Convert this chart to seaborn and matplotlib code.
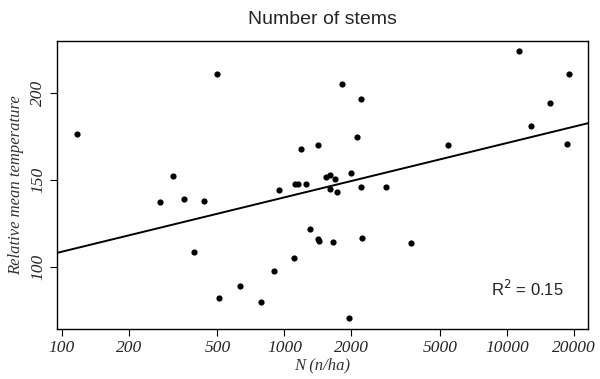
import numpy as np
import pandas as pd
import seaborn as sns
import matplotlib
matplotlib.use("Agg")
import matplotlib.pyplot as plt

# stems per hectare and relative mean temperature
stems = [117, 276, 316, 353, 392, 434, 499, 509, 632, 785, 902, 946,
         1107, 1117, 1150, 1188, 1253, 1300, 1410, 1430, 1422, 1538, 1604,
         1610, 1649, 1683, 1725, 1811, 1941, 1983, 2125, 2213, 2213, 2240,
         2857, 3707, 5455, 11300, 12800, 15560, 18660, 18900]
temp = [176.3, 137.1, 152.3, 138.8, 108.4, 137.7, 211.3, 81.7, 88.6, 79.7,
        97.6, 144.4, 105.1, 147.5, 147.5, 167.7, 147.8, 121.7, 115.8, 114.6,
        170.2, 151.7, 145.0, 153.0, 114.2, 150.7, 143.2, 205.2, 70.2, 154.2,
        174.6, 196.9, 145.8, 116.7, 146.1, 113.4, 170.2, 224.2, 181.0, 194.4,
        170.9, 211.0]
xticks = [100, 200, 500, 1000, 2000, 5000, 10000, 20000]
yticks = [100, 150, 200]
r2_text = "R$^2$ = 0.15"

df = pd.DataFrame({"N": stems, "T": temp})

sns.set_style("white")
serif = ["Liberation Serif", "DejaVu Serif"]
sans = ["Liberation Sans", "DejaVu Sans"]

fig = plt.figure(figsize=(6, 3.79), dpi=100)
ax = fig.add_axes([0.095, 0.132, 0.885, 0.76])
ax.set_xscale("log")
ax.set_xlim(95.2, 23100)
ax.set_ylim(64, 230.2)

sns.scatterplot(data=df, x="N", y="T", ax=ax, color="black", s=20,
                edgecolor="black", linewidth=0, zorder=3)
sns.regplot(data=df, x="N", y="T", ax=ax, scatter=False, logx=True, ci=None,
            truncate=False, line_kws={"color": "black", "lw": 1.4})

ax.set_xlim(95.2, 23100)
ax.set_xticks(xticks)
ax.set_xticklabels([str(v) for v in xticks])
ax.xaxis.set_minor_locator(matplotlib.ticker.NullLocator())
ax.set_yticks(yticks)
ax.set_yticklabels([str(v) for v in yticks], rotation=90, va="center")

for lab in ax.get_xticklabels() + ax.get_yticklabels():
    lab.set_family(serif)
    lab.set_style("italic")
    lab.set_fontsize(12.5)
ax.tick_params(axis="both", which="major", direction="out", length=5,
               width=0.8, color="black", bottom=True, left=True, pad=3)

for sp in ax.spines.values():
    sp.set_visible(True)
    sp.set_color("black")
    sp.set_linewidth(1.0)

ax.set_xlabel("N (n/ha)", family=serif, style="italic", fontsize=12,
              color="#333333", labelpad=1)
ax.set_ylabel("Relative mean temperature", family=serif, style="italic",
              fontsize=12, color="#333333", labelpad=4)
ax.set_title("Number of stems", family=sans, fontsize=14, pad=12)
ax.text(0.955, 0.14, r2_text, transform=ax.transAxes, ha="right",
        va="center", family=sans, fontsize=12, color="#222222")

fig.savefig("out.png", dpi=100)
